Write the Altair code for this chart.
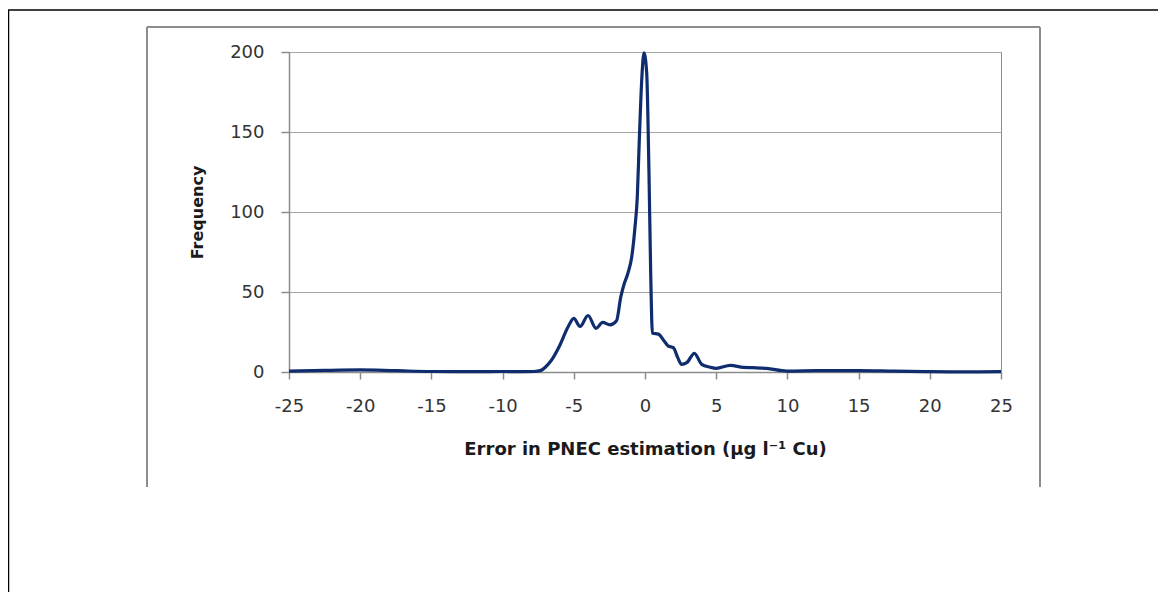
import altair as alt
import pandas as pd

# Traced curve: error in PNEC estimation vs frequency
err = [-25, -22.5, -20, -17.5, -15, -12.5, -10, -8.5, -7.8, -7.3, -7.0, -6.6,
       -5.97, -5.4, -5.0, -4.56, -4.0, -3.44, -2.97, -2.46, -2.0, -1.7, -1.47,
       -1.2, -0.93, -0.7, -0.54, -0.4, -0.23, -0.07, 0.12, 0.28, 0.4, 0.52,
       0.94, 1.29, 1.64, 1.99, 2.3, 2.57, 2.93, 3.47, 3.98, 4.57, 5.0, 6.0,
       6.9, 7.6, 8.54, 9.95, 12, 15, 17.5, 20, 22.5, 25]
freq = [0.5, 1.0, 1.3, 0.8, 0.3, 0.2, 0.3, 0.2, 0.3, 1.0, 3.0, 7.0,
        16.9, 28.3, 33.5, 28.5, 35.3, 27.3, 31.0, 29.4, 32.0, 47.0, 54.8,
        61.7, 72.0, 90.8, 109.6, 145.0, 182.5, 199.5, 186.7, 124.0, 61.7, 24.2,
        23.7, 20.0, 16.2, 15.2, 9.0, 4.8, 5.8, 11.7, 4.8, 3.0, 2.3, 4.2,
        2.9, 2.7, 2.3, 0.6, 0.8, 0.9, 0.5, 0.2, 0.1, 0.2]

x_ticks = [-25, -20, -15, -10, -5, 0, 5, 10, 15, 20, 25]
y_ticks = [0, 50, 100, 150, 200]

df = pd.DataFrame({"err": err, "freq": freq})
one = pd.DataFrame({"k": [0]})

FONT = "DejaVu Sans"
GRAY = "#8c8c8c"

line = alt.Chart(df).mark_line(color="#0f2d6e", strokeWidth=3.2, interpolate="monotone").encode(
    x=alt.X("err:Q", scale=alt.Scale(domain=[-25, 25], nice=False),
            axis=alt.Axis(values=x_ticks, title="Error in PNEC estimation (µg l⁻¹ Cu)",
                          labelExpr="toString(datum.value)", labelFlush=False,
                          labelOverlap=False, labelBound=False,
                          grid=False, tickSize=7, labelPadding=18, titleX=356, titleY=77,
                          titleBaseline="middle", titleAlign="center",
                          titleFontWeight="bold", titleFontSize=18)),
    y=alt.Y("freq:Q", scale=alt.Scale(domain=[0, 200], nice=False),
            axis=alt.Axis(values=y_ticks, title="Frequency", grid=True, tickSize=8,
                          labelPadding=17, titleX=-92, titleY=160, titleAngle=-90,
                          titleBaseline="middle", titleAlign="center",
                          titleFontWeight="bold", titleFontSize=16)),
)

def rule(color, width, **enc):
    return alt.Chart(one).mark_rule(color=color, strokeWidth=width).encode(
        **{k: alt.value(v) for k, v in enc.items()})

frames = [
    rule("#000000", 1.5, x=-280.5, y=-42, y2=540),
    rule("#000000", 1.5, x=-281, x2=869, y=-42),
    rule(GRAY, 2, x=-142, y=-25, y2=435),
    rule(GRAY, 2, x=-142, x2=751, y=-25),
    rule(GRAY, 2, x=751, y=-25, y2=435),
]

chart = alt.layer(line, *frames).properties(
    width=712, height=320,
    padding={"left": 281, "top": 44, "right": 157, "bottom": 220},
    autosize=alt.AutoSizeParams(type="none"),
).configure_view(stroke=GRAY, strokeWidth=1).configure_axis(
    labelFont=FONT, titleFont=FONT, labelFontSize=18, labelColor="#333333",
    titleColor="#1a1a1a", domainColor=GRAY, tickColor=GRAY, gridColor="#a6a6a6",
    domainWidth=1.5, tickWidth=1.5,
)

chart.save("out.html", embed_options={"renderer": "svg", "actions": False})
